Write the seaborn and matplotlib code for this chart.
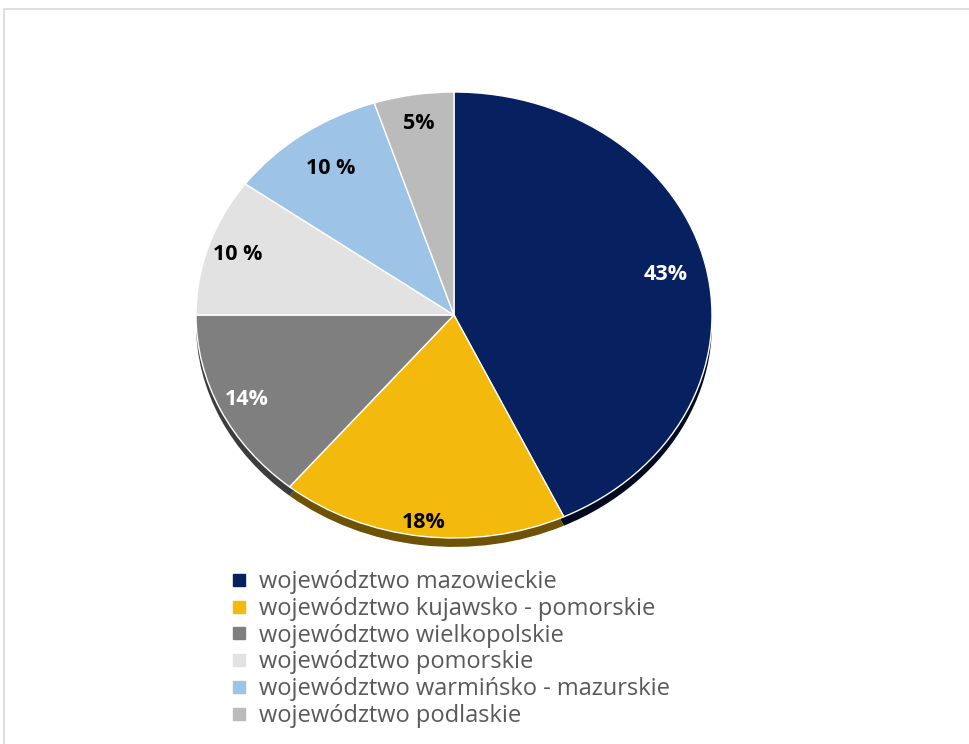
import matplotlib
matplotlib.use("Agg")
import matplotlib.pyplot as plt
import seaborn as sns
from matplotlib.patches import Rectangle
from matplotlib.lines import Line2D

sns.set_theme(style="white")
plt.rcParams['font.family'] = ['Open Sans', 'DejaVu Sans']

categories = ["województwo mazowieckie",
              "województwo kujawsko - pomorskie",
              "województwo wielkopolskie",
              "województwo pomorskie",
              "województwo warmińsko - mazurskie",
              "województwo podlaskie"]
values = [43, 18, 14, 10, 10, 5]
pct_labels = ["43%", "18%", "14%", "10 %", "10 %", "5%"]
colors = ["#062060", "#F3B90C", "#7F7F7F", "#E2E2E2", "#9DC3E6", "#BBBBBB"]
side_colors = ["#020A22", "#6E5205", "#3C3C3C", "#8A8A8A", "#5A7C99", "#6A6A6A"]
label_colors = ["white", "black", "white", "black", "black", "black"]
label_dist = [0.84, 0.94, 0.89, 0.88, 0.81, 0.87]

W, H = 970, 744
fig = plt.figure(figsize=(W / 100, H / 100), dpi=100)

# pie geometry in pixels
cx, cy, rx, ry = 454, 315, 258, 223
span = 1.25
ax = fig.add_axes([(cx - span * rx) / W, (H - cy - span * ry) / H,
                   2 * span * rx / W, 2 * span * ry / H])

# side / depth of the pie
ax.pie(values, colors=side_colors, startangle=90, counterclock=False,
       center=(0, -0.04), radius=1.0,
       wedgeprops=dict(edgecolor="none", linewidth=0))

it = iter(pct_labels)
base = 0.87
wedges, texts, autotexts = ax.pie(
    values, colors=colors, startangle=90, counterclock=False,
    radius=1.0, autopct=lambda p: next(it), pctdistance=base,
    wedgeprops=dict(edgecolor="white", linewidth=1.0),
    textprops=dict(fontsize=15.5, fontweight="bold"))
for t, c, d in zip(autotexts, label_colors, label_dist):
    t.set_color(c)
    x, y = t.get_position()
    t.set_position((x * d / base, y * d / base))

ax.set_aspect("auto")
ax.set_xlim(-span, span)
ax.set_ylim(-span, span)
ax.axis("off")

# legend
handles = [Line2D([0], [0], marker="s", linestyle="none", markersize=8,
                  markerfacecolor=c, markeredgecolor=c) for c in colors]
leg = fig.legend(handles, categories, loc="upper left",
                 bbox_to_anchor=(232 / W, 1 - 570 / H), frameon=False,
                 fontsize=17, labelspacing=0.12, handlelength=0.6,
                 handletextpad=0.55, borderpad=0, borderaxespad=0)
for t in leg.get_texts():
    t.set_color("#595959")

# chart area border
fig.patches.append(Rectangle((4 / W, -0.05), 1.2, (H - 9) / H + 0.05,
                             transform=fig.transFigure, fill=False,
                             edgecolor="#D9D9D9", linewidth=1.2))

fig.savefig("out.png", dpi=100)
